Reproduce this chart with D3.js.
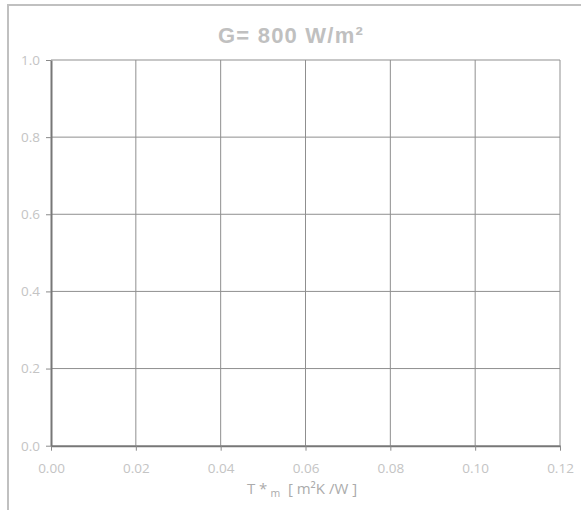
<!DOCTYPE html>
<html>
<head>
  <meta charset="UTF-8">
  <title>G = 800 W/m2 - empty efficiency chart</title>
  <script src="https://cdnjs.cloudflare.com/ajax/libs/d3/7.8.5/d3.min.js"></script>
  <style>
    body {
      margin: 0;
      background: #fff;
    }
    svg {
      display: block;
    }
    .tick text {
      font-family: "Open Sans", "DejaVu Sans", sans-serif;
      font-size: 13.5px;
      fill: #c4c4c4;
    }
    .tick line {
      stroke: #8a8a8a;
    }
    .grid line {
      stroke: #8f8f8f;
      stroke-width: 1;
    }
  </style>
</head>
<body>
<div id="chart"></div>

<script>
// chart data (no series are plotted in this chart)
var titleText = 'G= 800 W/m²';
var xTicks = [0, 0.02, 0.04, 0.06, 0.08, 0.10, 0.12];
var yTicks = [0, 0.2, 0.4, 0.6, 0.8, 1.0];
var xDomain = [0, 0.12];
var yDomain = [0, 1];
var series = [];

var layout = {
  width: 581,
  height: 510,
  marginLeft: 51,
  marginRight: 21,
  marginTop: 60,
  marginBottom: 64.3
};

var svg = d3.select('#chart')
  .append('svg')
  .attr('width', layout.width)
  .attr('height', layout.height);

// outer frame, clipped by the window on the right and bottom
svg.append('path')
  .attr('d', 'M8,' + layout.height + 'V5H' + layout.width)
  .attr('fill', 'none')
  .attr('stroke', '#c0c0c0')
  .attr('stroke-width', 2);

var x = d3.scaleLinear()
  .domain(xDomain)
  .range([layout.marginLeft, layout.width - layout.marginRight]);

var y = d3.scaleLinear()
  .domain(yDomain)
  .range([layout.height - layout.marginBottom, layout.marginTop]);

// Grid
var grid = svg.append('g').attr('class', 'grid');

grid.selectAll('.vline')
  .data(xTicks.filter(function(d) { return d > 0; }))
  .enter()
  .append('line')
  .attr('class', 'vline')
  .attr('x1', function(d) { return x(d); })
  .attr('x2', function(d) { return x(d); })
  .attr('y1', y(yDomain[0]))
  .attr('y2', y(yDomain[1]));

grid.selectAll('.hline')
  .data(yTicks.filter(function(d) { return d > 0; }))
  .enter()
  .append('line')
  .attr('class', 'hline')
  .attr('x1', x(xDomain[0]))
  .attr('x2', x(xDomain[1]))
  .attr('y1', function(d) { return y(d); })
  .attr('y2', function(d) { return y(d); });

// Axes
svg.append('g')
  .attr('transform', 'translate(0,' + y(0) + ')')
  .call(d3.axisBottom(x)
    .tickValues(xTicks)
    .tickFormat(d3.format('.2f'))
    .tickSizeInner(5)
    .tickSizeOuter(0)
    .tickPadding(13));

svg.append('g')
  .attr('transform', 'translate(' + x(0) + ',0)')
  .call(d3.axisLeft(y)
    .tickValues(yTicks)
    .tickFormat(d3.format('.1f'))
    .tickSizeInner(5)
    .tickSizeOuter(0)
    .tickPadding(6));

svg.selectAll('.domain')
  .attr('stroke', '#777')
  .attr('stroke-width', 2);

// Title
svg.append('text')
  .attr('x', 291)
  .attr('y', 43)
  .attr('text-anchor', 'middle')
  .style('font-family', '"Liberation Sans", Arial, sans-serif')
  .style('font-weight', 'bold')
  .style('font-size', '22px')
  .style('letter-spacing', '1.2px')
  .style('fill', '#c0c0c0')
  .text(titleText);

// X axis label
var xLabel = svg.append('text')
  .attr('x', 302)
  .attr('y', 494)
  .attr('text-anchor', 'middle')
  .style('font-family', '"Open Sans", "DejaVu Sans", sans-serif')
  .style('font-size', '15px')
  .style('fill', '#ababab');

xLabel.append('tspan').text('T *');
xLabel.append('tspan')
  .attr('dy', 3)
  .attr('dx', 3)
  .style('font-size', '10.5px')
  .text('m');
xLabel.append('tspan')
  .attr('dy', -3)
  .attr('xml:space', 'preserve')
  .text('  [ m²K /W ]');
</script>
</body>
</html>
